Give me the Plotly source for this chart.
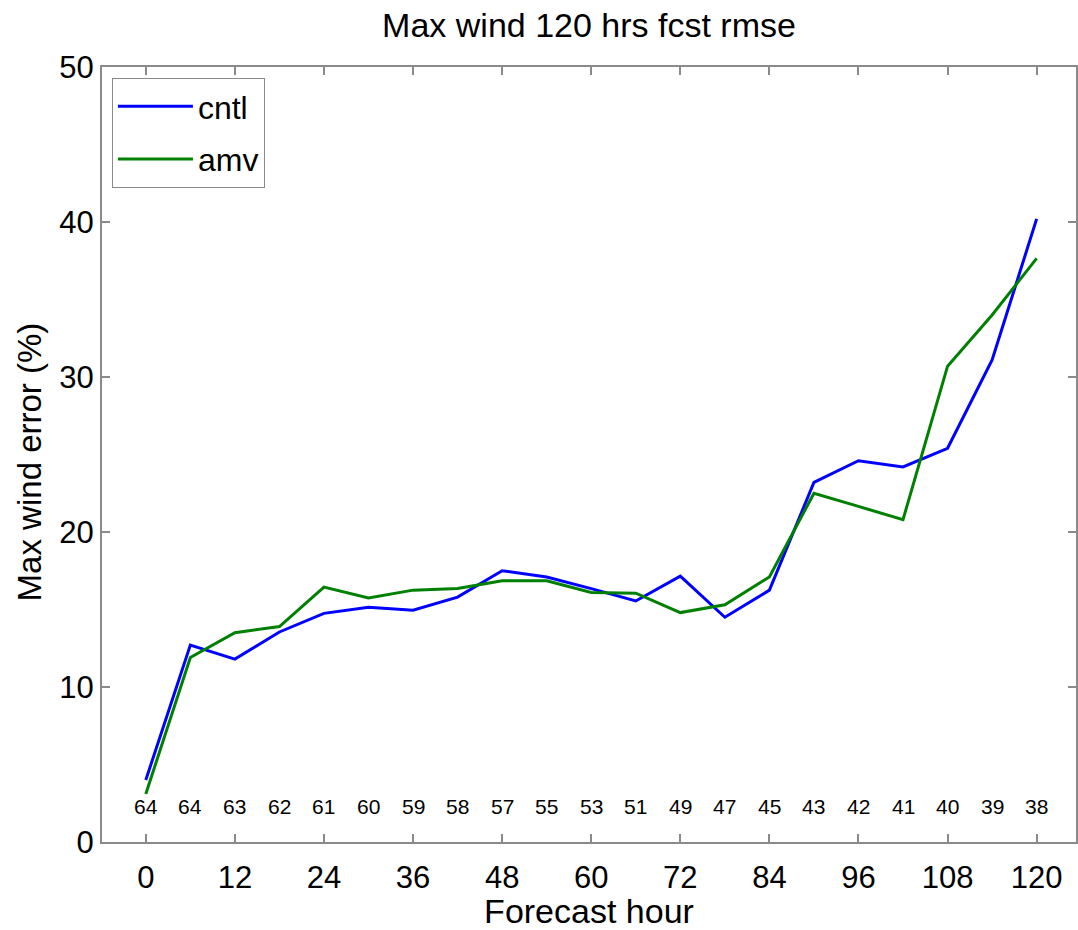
import plotly.graph_objects as go

hours = [0, 6, 12, 18, 24, 30, 36, 42, 48, 54, 60, 66, 72, 78, 84, 90, 96, 102, 108, 114, 120]
cntl = [4.0, 12.7, 11.8, 13.55, 14.75, 15.15, 14.95, 15.8, 17.5, 17.1, 16.35, 15.55,
        17.15, 14.5, 16.25, 23.2, 24.6, 24.2, 25.4, 31.1, 40.2]
amv = [3.1, 11.9, 13.5, 13.9, 16.45, 15.75, 16.25, 16.35, 16.85, 16.85, 16.1, 16.05,
       14.8, 15.3, 17.1, 22.5, 21.65, 20.8, 30.7, 34.0, 37.65]
counts = [64, 64, 63, 62, 61, 60, 59, 58, 57, 55, 53, 51, 49, 47, 45, 43, 42, 41, 40, 39, 38]
count_y = 2.3
x_ticks = [0, 12, 24, 36, 48, 60, 72, 84, 96, 108, 120]
y_ticks = [0, 10, 20, 30, 40, 50]

FONT = "Liberation Sans, Arial, Helvetica, sans-serif"
AXC = "#8a8a8a"

fig = go.Figure()
fig.add_trace(go.Scatter(x=hours, y=cntl, mode="lines", name="cntl",
                         line=dict(color="#0000ff", width=3), legendgroup="a"))
fig.add_trace(go.Scatter(x=hours, y=amv, mode="lines", name="amv",
                         line=dict(color="#008000", width=3), legendgroup="b"))

for h, c in zip(hours, counts):
    fig.add_annotation(x=h, y=count_y, text=str(c), showarrow=False,
                       xref="x", yref="y", font=dict(family=FONT, size=21, color="black"))

# y-axis title as rotated text
fig.add_annotation(text="Max wind error (%)", textangle=-90, showarrow=False,
                   xref="paper", yref="paper", x=-0.074, y=0.491,
                   xanchor="center", yanchor="middle",
                   font=dict(family=FONT, size=33, color="black"))

fig.update_layout(
    width=1078, height=930,
    margin=dict(l=102, r=0, t=67, b=88),
    paper_bgcolor="white", plot_bgcolor="white",
    font=dict(family=FONT, color="black"),
    title=dict(text="Max wind 120 hrs fcst rmse", x=0.5, xref="paper",
               y=1 - 25 / 930, yref="container", yanchor="middle",
               font=dict(family=FONT, size=34, color="black")),
    showlegend=True,
    legend=dict(x=0.0102, y=0.9858, xanchor="left", yanchor="top",
                bordercolor=AXC, borderwidth=1, bgcolor="white",
                font=dict(family=FONT, size=32, color="black"),
                itemwidth=75, tracegroupgap=8),
    xaxis=dict(range=[-5.9, 125.3], tickvals=x_ticks, ticks="inside", ticklen=8,
               tickwidth=1.5, tickcolor=AXC, showline=True, linecolor=AXC, linewidth=2,
               mirror="ticks", showgrid=False, zeroline=False, ticklabelstandoff=7,
               tickfont=dict(family=FONT, size=31, color="black"),
               title=dict(text="Forecast hour", font=dict(family=FONT, size=34, color="black"),
                          standoff=2)),
    yaxis=dict(range=[0, 50], tickvals=y_ticks, ticks="inside", ticklen=8,
               tickwidth=1.5, tickcolor=AXC, showline=True, linecolor=AXC, linewidth=2,
               mirror="ticks", showgrid=False, zeroline=False,
               tickfont=dict(family=FONT, size=31, color="black")),
)

fig.write_html("out.html")
